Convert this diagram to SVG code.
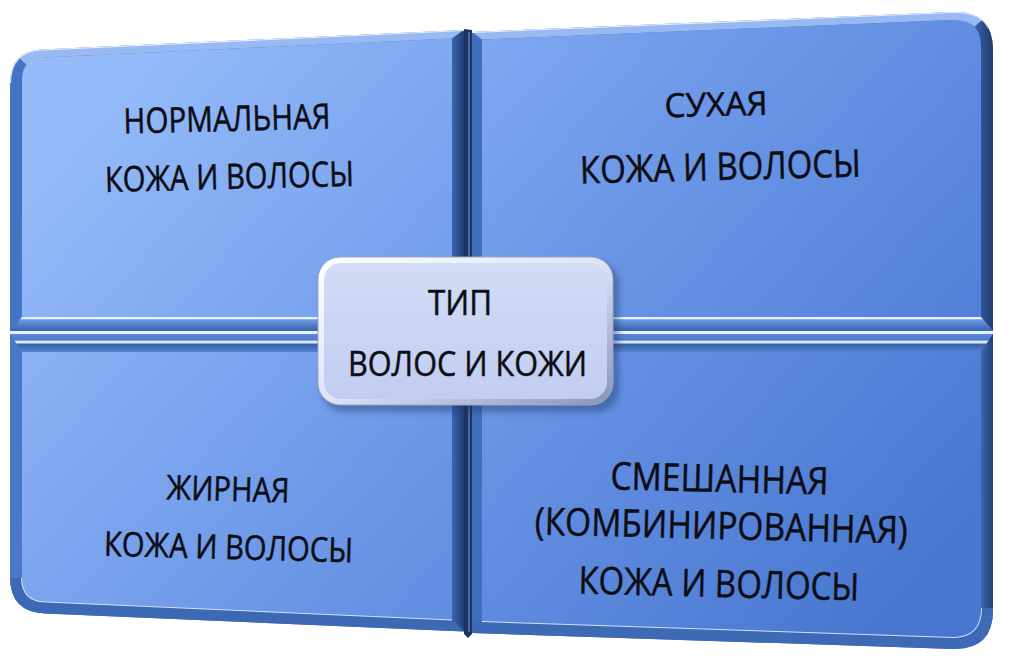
<svg xmlns="http://www.w3.org/2000/svg" width="1009" height="666" viewBox="0 0 1009 666">
<defs>
<style>
.t{font-family:"Open Sans","Noto Sans","DejaVu Sans",sans-serif;fill:#0d0d14;stroke:#0d0d14;stroke-width:0.5;text-anchor:middle}
.hl{fill:none;stroke:#e4eefe;stroke-width:2.2}
.il{fill:none;stroke:#cfe0fb;stroke-width:2}
.top{fill:#98b9f1}
</style>
<linearGradient id="main" gradientUnits="userSpaceOnUse" x1="150" y1="30" x2="850" y2="660">
<stop offset="0" stop-color="#95bbf9"/>
<stop offset="0.5" stop-color="#6b97e7"/>
<stop offset="1" stop-color="#4877d0"/>
</linearGradient>
<linearGradient id="rf" x1="0" y1="0" x2="1" y2="0">
<stop offset="0" stop-color="#3c66ae"/>
<stop offset="0.6" stop-color="#24437a"/>
<stop offset="1" stop-color="#1a3463"/>
</linearGradient>
<linearGradient id="bfT" gradientUnits="userSpaceOnUse" x1="0" y1="317" x2="0" y2="331">
<stop offset="0" stop-color="#e6f0ff"/>
<stop offset="0.12" stop-color="#e6f0ff"/>
<stop offset="0.2" stop-color="#6f9be6"/>
<stop offset="0.85" stop-color="#3f6ab5"/>
<stop offset="1" stop-color="#3f6ab5"/>
</linearGradient>
<linearGradient id="tfB" gradientUnits="userSpaceOnUse" x1="0" y1="334" x2="0" y2="352">
<stop offset="0" stop-color="#5b89d9"/>
<stop offset="0.35" stop-color="#4c7bcc"/>
<stop offset="0.38" stop-color="#dce9fd"/>
<stop offset="0.5" stop-color="#dce9fd"/>
<stop offset="0.56" stop-color="#36609f"/>
<stop offset="1" stop-color="#5483d5"/>
</linearGradient>
<linearGradient id="cbEdge" x1="0" y1="0" x2="1" y2="1">
<stop offset="0" stop-color="#ffffff"/>
<stop offset="0.5" stop-color="#dde4f8"/>
<stop offset="1" stop-color="#8593b8"/>
</linearGradient>
<linearGradient id="cbFill" x1="0" y1="0" x2="0" y2="1">
<stop offset="0" stop-color="#d3dcf6"/>
<stop offset="1" stop-color="#c2cdf0"/>
</linearGradient>
<filter id="blur" x="-10%" y="-10%" width="120%" height="130%">
<feGaussianBlur stdDeviation="3"/>
</filter>
<clipPath id="cTL"><path d="M10,331 L10,83 Q10,51 42,49.5 L464,29.9 L464,331 Z"/></clipPath>
<clipPath id="cTR"><path d="M472,331 L472,32 L953,12 Q993,10.4 993,50 L993,331 Z"/></clipPath>
<clipPath id="cBL"><path d="M10,334 L464,334 L464,631.5 L45,613.5 Q10,612 10,577 Z"/></clipPath>
<clipPath id="cBR"><path d="M472,334 L993,334 L993,610 Q993,650 953,648.9 L472,633 Z"/></clipPath>
</defs>
<rect width="1009" height="666" fill="#ffffff"/>

<g id="dividers">
<path d="M464,29 L472,30 L472,634 L468,638 L464,634 Z" fill="#1b3461"/>
<line x1="469" y1="32" x2="469" y2="632" stroke="#6d8fc9" stroke-width="1.2"/>
<rect x="10" y="331" width="983" height="3" fill="#e8f1ff"/>
</g>

<g id="normal">
<g clip-path="url(#cTL)">
<rect x="0" y="0" width="480" height="340" fill="#4574c3"/>
<polygon class="top" points="0,0 470,0 464,29.9 452,38.5 44,57.4 28,66 0,40"/>
<polygon fill="url(#rf)" points="452,38.5 464,29.9 470,29.9 470,340 464,331 452,317"/>
<polygon fill="url(#bfT)" points="22,317 452,317 464,331 470,331 470,340 0,340 0,331 10,331"/>
<path class="hl" d="M10,83 Q10,51 42,49.5 L464,29.9"/>
</g>
<path d="M22,317 L22,80 Q22,58.4 44,57.4 L452,38.5 L452,317 Z" fill="url(#main)"/>
<g transform="rotate(-1.4 229 160)">
<text class="t" x="228" y="131" font-size="35" textLength="207" lengthAdjust="spacingAndGlyphs">НОРМАЛЬНАЯ</text>
<text class="t" x="229" y="189" font-size="35" textLength="249" lengthAdjust="spacingAndGlyphs">КОЖА И ВОЛОСЫ</text>
</g>
</g>

<g id="dry">
<g clip-path="url(#cTR)">
<rect x="466" y="0" width="540" height="340" fill="#416fbe"/>
<polygon class="top" points="466,0 1000,0 1000,5 973,28 953,20 482,39.6 472,32 466,32"/>
<polygon fill="url(#rf)" points="1000,5 973,28 981,47 981,317 993,331 1000,340"/>
<polygon fill="url(#bfT)" points="482,317 981,317 993,331 1000,331 1000,340 466,340 466,331 472,331"/>
<path class="hl" d="M472,32 L953,12 Q980,11 989,28"/>
</g>
<path d="M482,317 L482,39.6 L953,20 Q981,18.9 981,47 L981,317 Z" fill="url(#main)"/>
<g transform="rotate(-1.4 720 148)">
<text class="t" x="717" y="116" font-size="33" textLength="103" lengthAdjust="spacingAndGlyphs">СУХАЯ</text>
<text class="t" x="720" y="180" font-size="38" textLength="281" lengthAdjust="spacingAndGlyphs">КОЖА И ВОЛОСЫ</text>
</g>
</g>

<g id="oily">
<g clip-path="url(#cBL)">
<rect x="0" y="326" width="480" height="320" fill="#4a78c6"/>
<polygon fill="url(#tfB)" points="0,334 470,334 464,334 452,352 22,352 10,334"/>
<polygon fill="url(#rf)" points="452,352 464,334 470,334 470,645 464,631.5 452,619.5"/>
<path d="M0,578 L22,578 Q22,600.5 45,601.5 L452,619.5 L464,631.5 L470,645 L0,645 Z" fill="#3d68b4"/>
<path class="il" d="M22,578 Q22,600.5 45,601.5 L452,619.5"/>
</g>
<path d="M22,352 L452,352 L452,619.5 L45,601.5 Q22,600.5 22,578 Z" fill="url(#main)"/>
<g transform="rotate(1.5 228 530)">
<text class="t" x="227" y="501" font-size="34" textLength="123" lengthAdjust="spacingAndGlyphs">ЖИРНАЯ</text>
<text class="t" x="229" y="559" font-size="34" textLength="249" lengthAdjust="spacingAndGlyphs">КОЖА И ВОЛОСЫ</text>
</g>
</g>

<g id="combined">
<g clip-path="url(#cBR)">
<rect x="466" y="326" width="540" height="334" fill="#416fbe"/>
<polygon fill="url(#tfB)" points="472,334 993,334 981,352 482,352"/>
<polygon fill="url(#rf)" points="981,352 993,334 1000,334 1000,612 981,608"/>
<path d="M482,621 L953,636.9 Q981,636.9 981,608 L1000,608 L1000,660 L466,660 L466,621 Z" fill="#3e69b5"/>
<path class="il" d="M482,621 L953,636.9 Q981,636.9 981,608"/>
</g>
<path d="M482,352 L981,352 L981,608 Q981,636.9 953,636.9 L482,621 Z" fill="url(#main)"/>
<g transform="rotate(1.4 720 540)">
<text class="t" x="718" y="492" font-size="38" textLength="218" lengthAdjust="spacingAndGlyphs">СМЕШАННАЯ</text>
<text class="t" x="721" y="539" font-size="38" textLength="373" lengthAdjust="spacingAndGlyphs">(КОМБИНИРОВАННАЯ)</text>
<text class="t" x="720" y="597" font-size="38" textLength="281" lengthAdjust="spacingAndGlyphs">КОЖА И ВОЛОСЫ</text>
</g>
</g>

<g id="center">
<rect x="322" y="262" width="297" height="150" rx="22" fill="#1b3360" opacity="0.4" filter="url(#blur)"/>
<rect x="318" y="257" width="295" height="148" rx="22" fill="url(#cbEdge)" stroke="#9aa6c8" stroke-width="1"/>
<rect x="324" y="263" width="283" height="136" rx="17" fill="url(#cbFill)"/>
<text class="t" x="460" y="315" font-size="34" textLength="64" lengthAdjust="spacingAndGlyphs">ТИП</text>
<text class="t" x="467.5" y="376" font-size="34" textLength="239" lengthAdjust="spacingAndGlyphs">ВОЛОС И КОЖИ</text>
</g>

<g id="connectors"/>
</svg>
